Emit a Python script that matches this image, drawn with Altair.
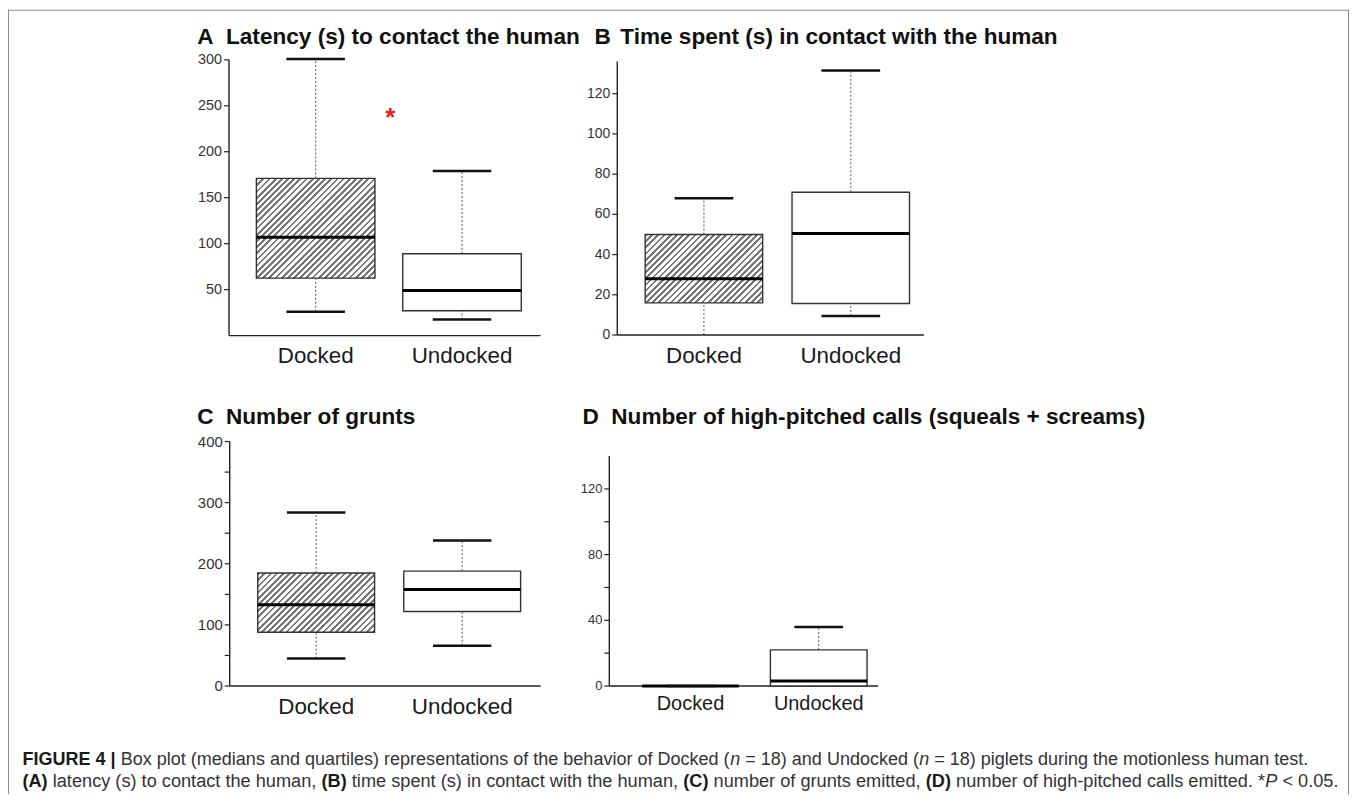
import altair as alt
import pandas as pd

# ---------------- data ----------------
GROUPS = ["Docked", "Undocked"]
POSITIONS = [1, 2]

LATENCY_MIN = [26, 17.5]
LATENCY_Q1 = [62.5, 27]
LATENCY_MEDIAN = [107, 49]
LATENCY_Q3 = [171, 89]
LATENCY_MAX = [301, 179]

CONTACT_MIN = [0, 9.5]
CONTACT_Q1 = [16, 15.7]
CONTACT_MEDIAN = [28, 50.5]
CONTACT_Q3 = [50, 71]
CONTACT_MAX = [68, 131.5]

GRUNTS_MIN = [45, 66]
GRUNTS_Q1 = [88, 122]
GRUNTS_MEDIAN = [133, 158]
GRUNTS_Q3 = [185, 188]
GRUNTS_MAX = [284, 238]

CALLS_MIN = [0, 0]
CALLS_Q1 = [0, 0]
CALLS_MEDIAN = [0, 3]
CALLS_Q3 = [0, 22]
CALLS_MAX = [0, 36]

LATENCY_TICKS = [50, 100, 150, 200, 250, 300]
CONTACT_TICKS = [0, 20, 40, 60, 80, 100, 120]
GRUNTS_TICKS = [0, 50, 100, 150, 200, 250, 300, 350, 400]
CALLS_TICKS = [0, 20, 40, 60, 80, 100, 120]

PANEL_LETTERS = ["A", "B", "C", "D"]
PANEL_TITLES = [
    "Latency (s) to contact the human",
    "Time spent (s) in contact with the human",
    "Number of grunts",
    "Number of high-pitched calls (squeals + screams)",
]

SIGNIF_TEXT = ["*"]
SIGNIF_POS = [1.51]
SIGNIF_VALUE = [237]

CAPTION_LINE1 = [
    ("FIGURE 4 | ", "bold"),
    ("Box plot (medians and quartiles) representations of the behavior of Docked (", "normal"),
    ("n", "italic"),
    (" = 18) and Undocked (", "normal"),
    ("n", "italic"),
    (" = 18) piglets during the motionless human test.", "normal"),
]
CAPTION_LINE2 = [
    ("(A)", "bold"),
    (" latency (s) to contact the human, ", "normal"),
    ("(B)", "bold"),
    (" time spent (s) in contact with the human, ", "normal"),
    ("(C)", "bold"),
    (" number of grunts emitted, ", "normal"),
    ("(D)", "bold"),
    (" number of high-pitched calls emitted. *", "normal"),
    ("P", "italic"),
    (" < 0.05.", "normal"),
]

# ---------------- layout / style ----------------
FONT = "Liberation Sans"
W, H = 1347, 788
AXIS_COLOR = "#222222"
FRAME_COLOR = "#8a8a8a"

PANELS = [
    dict(vals=[LATENCY_MIN, LATENCY_Q1, LATENCY_MEDIAN, LATENCY_Q3, LATENCY_MAX],
         xrange=[222, 535], xdom=[0.408, 2.537], yrange=[327.3, 50.3], ydom=[0, 300],
         yticks=LATENCY_TICKS, ylab=50, yfs=14.5, xfs=22.5, xpad=10, half=0.405, cap=0.2),
    dict(vals=[CONTACT_MIN, CONTACT_Q1, CONTACT_MEDIAN, CONTACT_Q3, CONTACT_MAX],
         xrange=[612, 920], xdom=[0.41, 2.498], yrange=[326.7, 52], ydom=[0, 136],
         yticks=CONTACT_TICKS, ylab=20, yfs=14, xfs=22.5, xpad=10, half=0.4, cap=0.2),
    dict(vals=[GRUNTS_MIN, GRUNTS_Q1, GRUNTS_MEDIAN, GRUNTS_Q3, GRUNTS_MAX],
         xrange=[222.7, 535], xdom=[0.408, 2.537], yrange=[679.3, 433.7], ydom=[0, 400],
         yticks=GRUNTS_TICKS, ylab=100, yfs=15, xfs=22.5, xpad=10, half=0.4, cap=0.2),
    dict(vals=[CALLS_MIN, CALLS_Q1, CALLS_MEDIAN, CALLS_Q3, CALLS_MAX],
         xrange=[604, 874], xdom=[0.367, 2.463], yrange=[679.3, 448.3], ydom=[0, 140],
         yticks=CALLS_TICKS, ylab=40, yfs=13, xfs=20, xpad=8, half=0.377, cap=0.19),
]

# Helvetica/Arial advance widths (1/1000 em) used to place caption segments
W_REG = {' ': 278, '(': 333, ')': 333, '*': 389, '+': 584, ',': 278, '-': 333, '.': 278,
         '<': 584, '=': 584, '|': 260,
         'A': 667, 'B': 667, 'C': 722, 'D': 722, 'E': 667, 'F': 611, 'G': 778, 'H': 722,
         'I': 278, 'P': 667, 'R': 722, 'U': 722,
         'a': 556, 'b': 556, 'c': 500, 'd': 556, 'e': 556, 'f': 278, 'g': 556, 'h': 556,
         'i': 222, 'j': 222, 'k': 500, 'l': 222, 'm': 833, 'n': 556, 'o': 556, 'p': 556,
         'q': 556, 'r': 333, 's': 500, 't': 278, 'u': 556, 'v': 500, 'w': 722, 'x': 500,
         'y': 500, 'z': 500}
W_BOLD = {' ': 278, '(': 333, ')': 333, '|': 280,
          'A': 722, 'B': 722, 'C': 722, 'D': 722, 'E': 667, 'F': 611, 'G': 778, 'I': 278,
          'R': 722, 'U': 722}


def width_units(s, table):
    return sum(table.get(ch, 556) for ch in s)


def layout_line(segs, x0, y, fs):
    out = []
    x = x0
    for s, style in segs:
        table = W_BOLD if style == "bold" else W_REG
        lead = len(s) - len(s.lstrip(" "))
        out.append(dict(t=s.strip(" "), style=style, fs=fs,
                        px=x + lead * table[' '] * fs / 1000, py=y))
        x += width_units(s, table) * fs / 1000
    return out


def line_units(segs):
    return sum(width_units(s, W_BOLD if st == "bold" else W_REG) for s, st in segs)


CAP_X0 = 14.5
CAP_FS1 = 1292 / line_units(CAPTION_LINE1) * 1000
CAP_FS2 = 1322 / line_units(CAPTION_LINE2) * 1000


def hatch(w, h, period=6.2, duty=0.45, c1="#767676", c2="#ffffff"):
    k = (w + h) / (w * w + h * h)
    n = (w + h) / period
    stops = []
    i = 0
    while i < n:
        o0 = i / n
        o1 = min((i + duty) / n, 1.0)
        o2 = min((i + 1) / n, 1.0)
        stops += [(o0, c1), (o1, c1), (o1, c2), (o2, c2)]
        i += 1
    return {"gradient": "linear", "x1": 0, "y1": 0, "x2": k * w, "y2": k * h,
            "stops": [{"offset": round(o, 5), "color": c} for o, c in stops]}


def make_panel(cfg):
    mn, q1, med, q3, mx = cfg["vals"]
    x0, x1 = cfg["xdom"]
    y0, y1 = cfg["ydom"]
    df = pd.DataFrame({"group": GROUPS, "pos": POSITIONS, "mn": mn, "q1": q1,
                       "med": med, "q3": q3, "mx": mx})
    xs = alt.Scale(domain=cfg["xdom"], range=cfg["xrange"], nice=False, zero=False)
    ys = alt.Scale(domain=cfg["ydom"], range=cfg["yrange"], nice=False, zero=False)
    half, cap = cfg["half"], cfg["cap"]
    base = alt.Chart(df).transform_calculate(
        bl=f"datum.pos - {half}", br=f"datum.pos + {half}",
        cl=f"datum.pos - {cap}", cr=f"datum.pos + {cap}", base=f"{y0}")

    def X(f):
        return alt.X(f"{f}:Q", scale=xs, axis=None)

    def Y(f):
        return alt.Y(f"{f}:Q", scale=ys, axis=None)

    # ---- axes drawn through the panel's scales ----
    frame = alt.Chart(pd.DataFrame({"x0": [x0], "x1": [x1], "y0": [y0], "y1": [y1]}))
    y_domain = frame.mark_rule(color=AXIS_COLOR, strokeWidth=1.4).encode(
        x=X("x0"), y=Y("y0"), y2=alt.Y2("y1"))
    x_domain = frame.mark_rule(color=AXIS_COLOR, strokeWidth=1.4).encode(
        x=X("x0"), x2=alt.X2("x1"), y=Y("y0"))
    tick_df = pd.DataFrame({"v": cfg["yticks"],
                            "lab": [str(v) if v % cfg["ylab"] == 0 else "" for v in cfg["yticks"]],
                            "x0": [x0] * len(cfg["yticks"])})
    tick_base = alt.Chart(tick_df)
    y_ticks = tick_base.mark_rule(color=AXIS_COLOR, strokeWidth=1.2, xOffset=-5).encode(
        x=X("x0"), x2=alt.X2("x0"), y=Y("v"))
    y_labels = tick_base.mark_text(align="right", baseline="middle", dx=-7, font=FONT,
                                   fontSize=cfg["yfs"], color="#333333").encode(
        x=X("x0"), y=Y("v"), text="lab:N")
    x_labels = base.mark_text(align="center", baseline="top", dy=cfg["xpad"], font=FONT,
                              fontSize=cfg["xfs"], color="#1a1a1a").encode(
        x=X("pos"), y=Y("base"), text="group:N")

    # ---- box plot ----
    dash = dict(strokeDash=[2, 2], color="#555555", strokeWidth=1)
    whisk_hi = base.mark_rule(**dash).encode(x=X("pos"), y=Y("q3"), y2=alt.Y2("mx"))
    whisk_lo = base.mark_rule(**dash).encode(x=X("pos"), y=Y("mn"), y2=alt.Y2("q1"))

    px_x = (cfg["xrange"][1] - cfg["xrange"][0]) / (x1 - x0)
    px_y = (cfg["yrange"][0] - cfg["yrange"][1]) / (y1 - y0)
    bw = 2 * half * px_x
    bh = (q3[0] - q1[0]) * px_y
    dock_fill = hatch(bw, bh) if bh > 1 else "#ffffff"

    box_dock = base.transform_filter(f"datum.pos == {POSITIONS[0]}").mark_rect(
        fill=dock_fill, stroke="#333333", strokeWidth=1.4).encode(
        x=X("bl"), x2=alt.X2("br"), y=Y("q1"), y2=alt.Y2("q3"))
    box_und = base.transform_filter(f"datum.pos == {POSITIONS[1]}").mark_rect(
        fill="#ffffff", stroke="#333333", strokeWidth=1.4).encode(
        x=X("bl"), x2=alt.X2("br"), y=Y("q1"), y2=alt.Y2("q3"))
    median = base.mark_rule(color="#000000", strokeWidth=3).encode(
        x=X("bl"), x2=alt.X2("br"), y=Y("med"))
    caps_hi = base.mark_rule(color="#111111", strokeWidth=2.5).encode(
        x=X("cl"), x2=alt.X2("cr"), y=Y("mx"))
    # a lower cap lying on the x axis is hidden in the original
    caps_lo = base.transform_filter(f"datum.mn > {y0}").mark_rule(
        color="#111111", strokeWidth=2.5).encode(
        x=X("cl"), x2=alt.X2("cr"), y=Y("mn"))
    layers = [whisk_hi, whisk_lo, y_domain, x_domain, y_ticks, y_labels, x_labels,
              box_dock, box_und, median, caps_hi, caps_lo]
    return layers, X, Y


all_layers = []
for i, cfg in enumerate(PANELS):
    layers, X, Y = make_panel(cfg)
    if i == 0:
        sig = alt.Chart(pd.DataFrame({"t": SIGNIF_TEXT, "pos": SIGNIF_POS, "v": SIGNIF_VALUE})).mark_text(
            color="#e3201b", fontSize=26, fontWeight="bold", font=FONT, baseline="middle").encode(
            x=X("pos"), y=Y("v"), text="t:N")
        layers.append(sig)
    all_layers.append(alt.layer(*layers))

# panel titles
TITLE_FS = 22.7
letter_x = [190, 589, 190, 577]
text_x = [219, 615, 219, 606]
title_y = [34, 34, 416, 416]
tdf = pd.DataFrame({
    "t": PANEL_LETTERS + PANEL_TITLES,
    "px": letter_x + text_x,
    "py": title_y + title_y,
})
titles = alt.Chart(tdf).mark_text(align="left", baseline="alphabetic", font=FONT,
                                  fontSize=TITLE_FS, fontWeight="bold", color="#111111").encode(
    x=alt.X("px:Q", scale=None, axis=None), y=alt.Y("py:Q", scale=None, axis=None), text="t:N")

# caption
segs = layout_line(CAPTION_LINE1, CAP_X0, 759, CAP_FS1) + layout_line(CAPTION_LINE2, CAP_X0, 781, CAP_FS2)
cdf = pd.DataFrame(segs)
caption_layers = []
for style, kw in [("bold", dict(fontWeight="bold", color="#1a1a1a")),
                  ("normal", dict(color="#333333")),
                  ("italic", dict(fontStyle="italic", color="#333333"))]:
    for fs in (CAP_FS1, CAP_FS2):
        sub = cdf[(cdf["style"] == style) & (cdf["fs"] == fs)]
        if len(sub) == 0:
            continue
        caption_layers.append(
            alt.Chart(sub).mark_text(align="left", baseline="alphabetic", font=FONT,
                                     fontSize=fs, **kw).encode(
                x=alt.X("px:Q", scale=None, axis=None), y=alt.Y("py:Q", scale=None, axis=None),
                text="t:N"))

# figure frame (left, top, right edges; the bottom edge lies below the picture)
frame_rules = [
    alt.Chart(pd.DataFrame({"k": [0]})).mark_rule(color=FRAME_COLOR, strokeWidth=1).encode(
        x=alt.value(0.5), y=alt.value(0), y2=alt.value(H)),
    alt.Chart(pd.DataFrame({"k": [0]})).mark_rule(color=FRAME_COLOR, strokeWidth=1).encode(
        x=alt.value(0), x2=alt.value(W), y=alt.value(0.5)),
    alt.Chart(pd.DataFrame({"k": [0]})).mark_rule(color=FRAME_COLOR, strokeWidth=1).encode(
        x=alt.value(W - 0.5), y=alt.value(0), y2=alt.value(H)),
]

chart = alt.layer(*frame_rules, *all_layers, titles, *caption_layers).resolve_scale(
    x="independent", y="independent").properties(
    width=W, height=H, padding=0, autosize=alt.AutoSizeParams(type="none"),
    background="#ffffff").configure_view(strokeWidth=0)

chart.save("out.html", embed_options={"renderer": "svg", "actions": False})
